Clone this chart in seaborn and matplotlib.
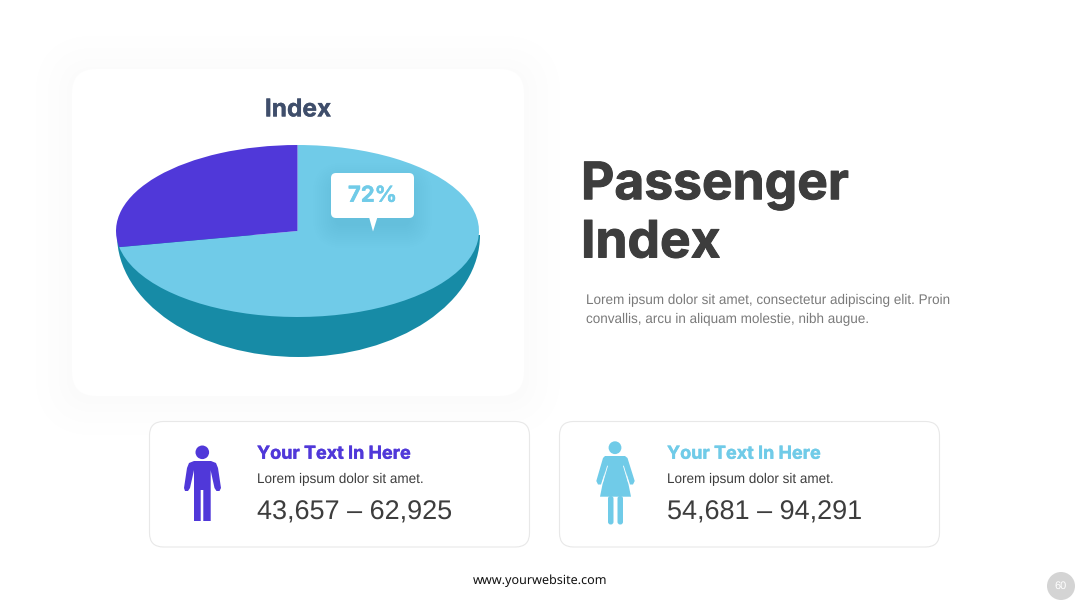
import matplotlib
matplotlib.use("Agg")
import matplotlib.pyplot as plt
import matplotlib.patheffects as pe
import seaborn as sns
from matplotlib.patches import FancyBboxPatch, Circle, Polygon

W, H = 1080, 608

# ---------- data ----------
slice_labels = ["Blue", "Purple"]
slice_values = [72, 28]
callout_text = "72%"
chart_title = "Index"
headline_lines = ["Passenger", "Index"]
body_lines = ["Lorem ipsum dolor sit amet, consectetur adipiscing elit. Proin",
              "convallis, arcu in aliquam molestie, nibh augue."]
card_titles = ["Your Text In Here", "Your Text In Here"]
card_subs = ["Lorem ipsum dolor sit amet.", "Lorem ipsum dolor sit amet."]
card_ranges = ["43,657 – 62,925", "54,681 – 94,291"]
footer = "www.yourwebsite.com"
page_no = "60"

sns.set_theme(style="white")
palette = sns.color_palette(["#70CBE8", "#5038D9"])
BLUE, PURPLE = palette
TEAL = "#178BA6"
plt.rcParams["font.family"] = ["Liberation Sans", "DejaVu Sans"]
plt.rcParams["text.hinting"] = "none"
plt.rcParams["text.hinting_factor"] = 8


def pt(px):
    return px * 72 / 100


def heavy(color, w):
    return [pe.withStroke(linewidth=w, foreground=color)]


fig = plt.figure(figsize=(W / 100, H / 100), dpi=100, facecolor="white")
bg = fig.add_axes([0, 0, 1, 1], zorder=0)
bg.set_xlim(0, W)
bg.set_ylim(H, 0)
bg.axis("off")


def rbox(ax, x0, y0, x1, y1, r, **kw):
    p = FancyBboxPatch((x0, y0), x1 - x0, y1 - y0,
                       boxstyle=f"round,pad=0,rounding_size={r}", **kw)
    ax.add_patch(p)
    return p


# main card with soft shadow (opaque steps, too faint for alpha blending)
for g, shade in ((36, "#FEFEFE"), (24, "#FDFDFD"), (13, "#FCFCFC"), (5, "#FBFBFB")):
    rbox(bg, 72 - g, 69 - g + 3, 524 + g, 396 + g + 3, 24 + g, fc=shade, ec="none")
rbox(bg, 72, 69, 524, 396, 24, fc="white", ec="none")

# small cards
for x0 in (149.5, 559.5):
    rbox(bg, x0, 421.5, x0 + 380, 547, 14, fc="white", ec="#E8E8E8", lw=0.8)


# pie layers
def pie_axes(cx, cy, a, b, z):
    return fig.add_axes([(cx - a) / W, 1 - (cy + b) / H, 2 * a / W, 2 * b / H], zorder=z)


side = pie_axes(298.5, 235, 181.5, 122, 1)
side.pie([1, 1], colors=[TEAL, "none"], startangle=180, radius=1,
         wedgeprops=dict(linewidth=0))
side.set_aspect("auto")
side.set_xlim(-1, 1)
side.set_ylim(-1, 1)
side.patch.set_alpha(0)

top = pie_axes(297.5, 231, 181.5, 86, 2)
top.pie(slice_values, colors=palette, startangle=90, counterclock=False,
        radius=1, wedgeprops=dict(linewidth=0))
top.set_aspect("auto")
top.set_xlim(-1, 1)
top.set_ylim(-1, 1)
top.patch.set_alpha(0)

# overlay
ov = fig.add_axes([0, 0, 1, 1], zorder=3)
ov.set_xlim(0, W)
ov.set_ylim(H, 0)
ov.axis("off")
ov.patch.set_alpha(0)

# callout
for i in range(12, 0, -1):
    g = i * 2
    rbox(ov, 331 - g + 6, 173 - g + 14, 414 + g - 6, 218 + g + 6, 6 + g,
         fc="#1A6F8C", ec="none", alpha=0.006)
rbox(ov, 331, 173, 414, 218, 5, fc="white", ec="none")
ov.add_patch(Polygon([(369, 217), (377.5, 217), (373, 231.5)], fc="white", ec="none"))
ov.text(372.5, 196, callout_text, color=BLUE, fontsize=pt(22), fontweight="bold",
        family="Inter", ha="center", va="center", path_effects=heavy(BLUE, 0.3))

ov.text(298, 110, chart_title, color="#3F4E6B", fontsize=pt(24.5), fontweight="bold",
        family="Inter", ha="center", va="center", path_effects=heavy("#3F4E6B", 0.2))

# headline
for y, line in zip((186, 244), headline_lines):
    ov.text(581, y, line, color="#3D3D3D", fontsize=pt(51.5), fontweight="bold",
            family="Inter", ha="left", va="center", path_effects=heavy("#3D3D3D", 0.7))

for y, line in zip((300.5, 319.5), body_lines):
    ov.text(585.5, y, line, color="#7A7A7A", fontsize=pt(13.5), ha="left", va="center")

# card text
for x, col, t, s, r in zip((257, 667), (PURPLE, BLUE), card_titles, card_subs, card_ranges):
    ov.text(x, 454, t, color=col, fontsize=pt(18), fontweight="bold", family="Inter",
            ha="left", va="center", path_effects=heavy(col, 0.25))
    ov.text(x, 479, s, color="#3D3D3D", fontsize=pt(13.5), ha="left", va="center")
    ov.text(x, 512.5, r, color="#3D3D3D", fontsize=pt(27), ha="left", va="center")

# man icon
ov.add_patch(Circle((202.3, 452.3), 6.8, fc=PURPLE, ec="none"))
man = [(194, 461), (211, 461), (216, 463), (218, 468), (221, 488), (219.5, 491), (216.5, 491),
       (214.5, 488), (211, 472), (210.7, 470), (210.7, 521), (203.3, 521), (203.3, 490),
       (200.7, 490), (200.7, 521), (194, 521), (194, 470), (193.6, 472), (190, 488),
       (188, 491), (185, 491), (184, 488), (187, 468), (189, 463)]
ov.add_patch(Polygon(man, closed=True, fc=PURPLE, ec="none"))

# woman icon
ov.add_patch(Circle((615, 447.7), 6.4, fc=BLUE, ec="none"))
dress = [(605, 456), (625, 456), (627.5, 458), (634.7, 481), (633, 484.5), (630, 484.5),
         (626, 472), (631, 496.7), (600, 496.7), (605, 472), (601, 484.5), (598, 484.5),
         (596.3, 481), (603, 458)]
ov.add_patch(Polygon(dress, closed=True, fc=BLUE, ec="none"))
ov.plot([607.5, 602.5], [466, 483], color="white", lw=0.6)
ov.plot([623.5, 628.5], [466, 483], color="white", lw=0.6)
for x0, x1 in ((608, 613.5), (617.5, 623)):
    rbox(ov, x0, 496, x1, 524.5, 2.6, fc=BLUE, ec="none")

# footer
ov.text(540, 581, footer, color="#111111", fontsize=pt(12.6), family="Noto Sans",
        ha="center", va="center")
ov.add_patch(Circle((1061, 586), 14, fc="#D4D4D4", ec="none"))
ov.text(1061, 586.5, page_no, color="white", fontsize=pt(11), ha="center", va="center")

fig.savefig("out.png", dpi=100, facecolor="white")
